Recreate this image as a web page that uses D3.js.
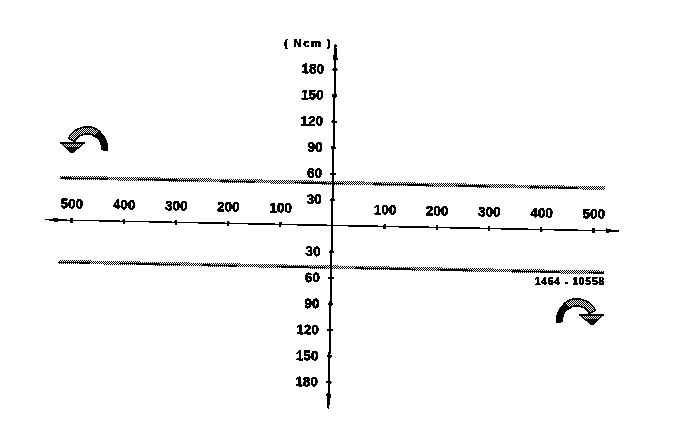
<!DOCTYPE html>
<html><head><meta charset="utf-8">
<script src="https://cdn.jsdelivr.net/npm/d3@7"></script>
<style>html,body{margin:0;padding:0;background:#fff}svg{display:block}
text{font-family:"Liberation Sans",Arial,sans-serif;font-weight:700;fill:#000;stroke:#000;stroke-width:0.25px}</style>
</head><body><svg id="c" width="688" height="444"></svg>
<script>
const speedTicks = [-500,-400,-300,-200,-100,100,200,300,400,500];
const torqueTicks = [-180,-150,-120,-90,-60,-30,30,60,90,120,150,180];
const speedExtent = [-550,550];
const torqueExtent = [208,-211];
const bandSpeed = [-522,522];
const bandUpper = [49,49];
const bandLower = [-48,-48];
const cwArrow = [473,-103];
const ccwArrow = [-472,83];
const yUnit = "(Ncm)";
const figureId = "1464 - 10558";

const svg = d3.select("#c");
const W=688,H=444, tilt=1.12, ox=332, oy=225.4;
const defs = svg.append("defs");
const f = defs.append("filter").attr("id","bin").attr("x",0).attr("y",0).attr("width",1).attr("height",1)
  .attr("color-interpolation-filters","sRGB");
const ct = f.append("feComponentTransfer");
["feFuncR","feFuncG","feFuncB"].forEach(n=>ct.append(n).attr("type","discrete").attr("tableValues","0 0 1"));
function stipple(id,tf){
  const p = defs.append("pattern").attr("id",id).attr("patternUnits","userSpaceOnUse").attr("width",2).attr("height",2);
  if(tf) p.attr("patternTransform",tf);
  p.append("rect").attr("width",2).attr("height",2).attr("fill","#fff");
  p.append("rect").attr("width",1).attr("height",1).attr("fill","#000");
  p.append("rect").attr("x",1).attr("y",1).attr("width",1).attr("height",1).attr("fill","#000");
}
stipple("stip");
stipple("stipBand",`rotate(${-tilt}) translate(${-ox},${-oy})`);

const root = svg.append("g").attr("filter","url(#bin)");
root.append("rect").attr("width",W).attr("height",H).attr("fill","#fff");
const g = root.append("g").attr("transform",`translate(${ox},${oy}) rotate(${tilt})`);

const x = d3.scaleLinear().domain([-500,500]).range([-261,261]);
const y = d3.scaleLinear().domain([180,-180]).range([-156.5,156.5]);
const line = d3.line().x(d=>x(d[0])).y(d=>y(d[1]));

// tolerance band
[bandUpper,bandLower].forEach((b,k)=>{
  const pts = bandSpeed.map((s,i)=>[s,b[i]]);
  g.append("path").attr("d",line(pts)).attr("fill","none").attr("stroke","url(#stipBand)").attr("stroke-width",3.4);
  g.append("path").attr("d",line(pts)).attr("fill","none").attr("stroke","#000").attr("stroke-width",1.2)
    .attr("stroke-dasharray","48 30 60 22 35 40").attr("stroke-dashoffset",k*17).attr("transform","translate(0,0.5)");
});

// axis lines with arrowheads
g.append("path").attr("d",line(speedExtent.map(s=>[s,0]))).attr("stroke","#000").attr("stroke-width",1.1).attr("fill","none");
g.append("path").attr("d",line(torqueExtent.map(t=>[0,t]))).attr("stroke","#000").attr("stroke-width",1.7).attr("fill","none");
const heads=[[speedExtent[0],0,-90],[speedExtent[1],0,90],[0,torqueExtent[0],0],[0,torqueExtent[1],180]];
g.selectAll(".hd").data(heads).join("path").attr("class","hd")
  .attr("transform",d=>`translate(${x(d[0])},${y(d[1])}) rotate(${d[2]})`)
  .attr("d",d=>d[0]===0?"M0,0L2.4,15L-2.4,15Z":"M0,3L2.2,13L-2.2,13Z").attr("fill","#000");

// axes
const fmt = d=>Math.abs(d);
const xa = g.append("g").call(d3.axisTop(x).tickValues(speedTicks).tickFormat(fmt).tickSize(2).tickPadding(10));
const ya = g.append("g").call(d3.axisLeft(y).tickValues(torqueTicks).tickFormat(fmt).tickSize(2).tickPadding(9));
[xa,ya].forEach(a=>{a.attr("font-family",null).attr("font-size",null);a.select(".domain").remove();a.selectAll("text").style("font-size","13.5px");});
xa.selectAll(".tick line").attr("y1",2.5).attr("y2",-2.5).attr("stroke-width",2);
ya.selectAll(".tick line").attr("x1",2.5).attr("x2",-2.5).attr("stroke-width",2);
xa.selectAll(".tick text").attr("dy","0em");

// rotation arrows, placed in page space so their stipple stays on the pixel grid
function rot(cx,cy,sign){
  const r = tilt*Math.PI/180, px = x(cx), py = y(cy);
  const sx = Math.round(ox + px*Math.cos(r) - py*Math.sin(r));
  const sy = Math.round(oy + px*Math.sin(r) + py*Math.cos(r));
  const a = root.append("g").attr("transform",`translate(${sx},${sy}) scale(${sign},1)`);
  const arc = d3.arc().innerRadius(14).outerRadius(21);
  a.append("path").attr("d",arc({startAngle:-1.1,endAngle:0.7})).attr("fill","url(#stip)").attr("stroke","#000").attr("stroke-width",1.2);
  a.append("path").attr("d",arc({startAngle:0.6,endAngle:1.72})).attr("fill","#000");
  a.append("path").attr("d",d3.line()([[-26,-5],[-3,-5],[-15,5]])+"Z").attr("fill","url(#stip)").attr("stroke","#000").attr("stroke-width",1.2);
  a.append("path").attr("d",d3.line()([[-20,-0.5],[-10,-0.5],[-15,5]])+"Z").attr("fill","#000");
}
rot(ccwArrow[0],ccwArrow[1],1);
rot(cwArrow[0],cwArrow[1],-1);

root.append("text").attr("x",332).attr("y",47).attr("text-anchor","end").style("font-size","11.5px").style("letter-spacing","1.3px").text(yUnit.replace("(","( ").replace(")"," )"));
root.append("text").attr("x",605).attr("y",285).attr("text-anchor","end").style("font-size","10.5px").style("letter-spacing","0.7px").text(figureId);
</script></body></html>
